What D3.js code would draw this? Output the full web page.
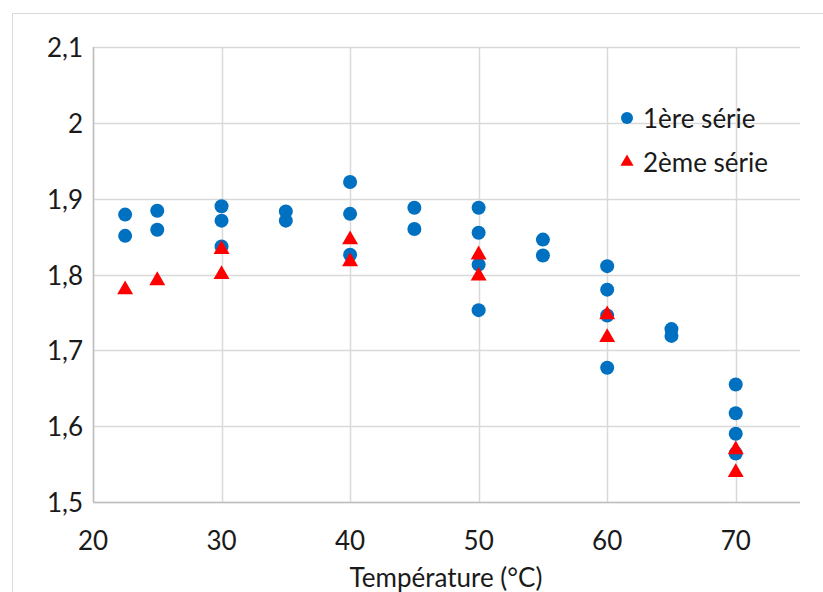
<!DOCTYPE html>
<html><head><meta charset="utf-8">
<script src="https://cdn.jsdelivr.net/npm/d3@7"></script>
<style>body{margin:0;background:#fff}svg{display:block}text{font-family:Lato,"Open Sans",sans-serif;fill:#1a1a1a}</style>
</head><body>
<svg id="c" width="823" height="592"></svg>
<script>
const xTicks = [20,30,40,50,60,70];
const yTicks = [1.5,1.6,1.7,1.8,1.9,2.0,2.1];
const yTickLabels = ["1,5","1,6","1,7","1,8","1,9","2","2,1"];
const s1x = [22.5,22.5,25,25,30,30,30,35,35,40,40,40,45,45,50,50,50,50,55,55,60,60,60,60,65,65,70,70,70,70];
const s1y = [1.879,1.851,1.884,1.859,1.890,1.871,1.837,1.883,1.871,1.922,1.880,1.826,1.888,1.860,1.888,1.855,1.813,1.753,1.846,1.825,1.811,1.780,1.746,1.677,1.728,1.719,1.655,1.617,1.590,1.564];
const s2x = [22.5,25,30,30,40,40,50,50,60,60,70,70];
const s2y = [1.780,1.792,1.833,1.800,1.846,1.817,1.826,1.798,1.747,1.717,1.569,1.539];
const seriesNames = ["1ère série","2ème série"];
const xTitle = "Température (°C)";

const svg = d3.select("#c");
svg.append("path").attr("d","M12.5,592 V13.5 H823").attr("fill","none").attr("stroke","#d9d9d9");

const x = d3.scaleLinear().domain([20,75]).range([93,800]);
const y = d3.scaleLinear().domain([1.5,2.1]).range([502,47]);
const g = svg.append("g");
g.selectAll(".hg").data(yTicks).join("line")
 .attr("x1",x(20)).attr("x2",x(75)).attr("y1",d=>Math.round(y(d))+0.5).attr("y2",d=>Math.round(y(d))+0.5)
 .attr("stroke","#d9d9d9").attr("stroke-width",1.5);
g.selectAll(".vg").data(xTicks).join("line")
 .attr("y1",y(1.5)).attr("y2",y(2.1)).attr("x1",d=>Math.round(x(d))+0.5).attr("x2",d=>Math.round(x(d))+0.5)
 .attr("stroke","#d9d9d9").attr("stroke-width",1.5);
g.append("line").attr("x1",x(20)).attr("x2",x(75)).attr("y1",Math.round(y(1.5))+0.5).attr("y2",Math.round(y(1.5))+0.5).attr("stroke","#bfbfbf").attr("stroke-width",1.5);
g.append("line").attr("y1",y(1.5)).attr("y2",y(2.1)).attr("x1",Math.round(x(20))+0.5).attr("x2",Math.round(x(20))+0.5).attr("stroke","#bfbfbf").attr("stroke-width",1.5);

const fs = 26;
svg.selectAll(".yl").data(yTicks).join("text")
 .attr("x",83).attr("y",d=>y(d)).attr("text-anchor","end").attr("dominant-baseline","central")
 .attr("font-size",fs).text((d,i)=>yTickLabels[i]);
svg.selectAll(".xl").data(xTicks).join("text")
 .attr("x",d=>x(d)).attr("y",540).attr("text-anchor","middle").attr("dominant-baseline","central")
 .attr("font-size",fs).text(d=>d);
svg.append("text").attr("x",446).attr("y",577).attr("text-anchor","middle").attr("dominant-baseline","central")
 .attr("font-size",fs).text(xTitle);

const tri = d3.symbol().type(d3.symbolTriangle).size(110);
svg.selectAll(".p1").data(s1x.map((v,i)=>[v,s1y[i]])).join("circle")
 .attr("cx",d=>x(d[0])).attr("cy",d=>y(d[1])).attr("r",7).attr("fill","#0070C0");
svg.selectAll(".p2").data(s2x.map((v,i)=>[v,s2y[i]])).join("path")
 .attr("d",tri).attr("transform",d=>`translate(${x(d[0])},${y(d[1])})`).attr("fill","#FF0000");

svg.append("circle").attr("cx",627).attr("cy",118).attr("r",6).attr("fill","#0070C0");
svg.append("path").attr("d",d3.symbol().type(d3.symbolTriangle).size(75)).attr("transform","translate(627,162)").attr("fill","#FF0000");
svg.append("text").attr("x",643).attr("y",118).attr("dominant-baseline","central").attr("font-size",fs).text(seriesNames[0]);
svg.append("text").attr("x",643).attr("y",162).attr("dominant-baseline","central").attr("font-size",fs).text(seriesNames[1]);
</script>
</body></html>
